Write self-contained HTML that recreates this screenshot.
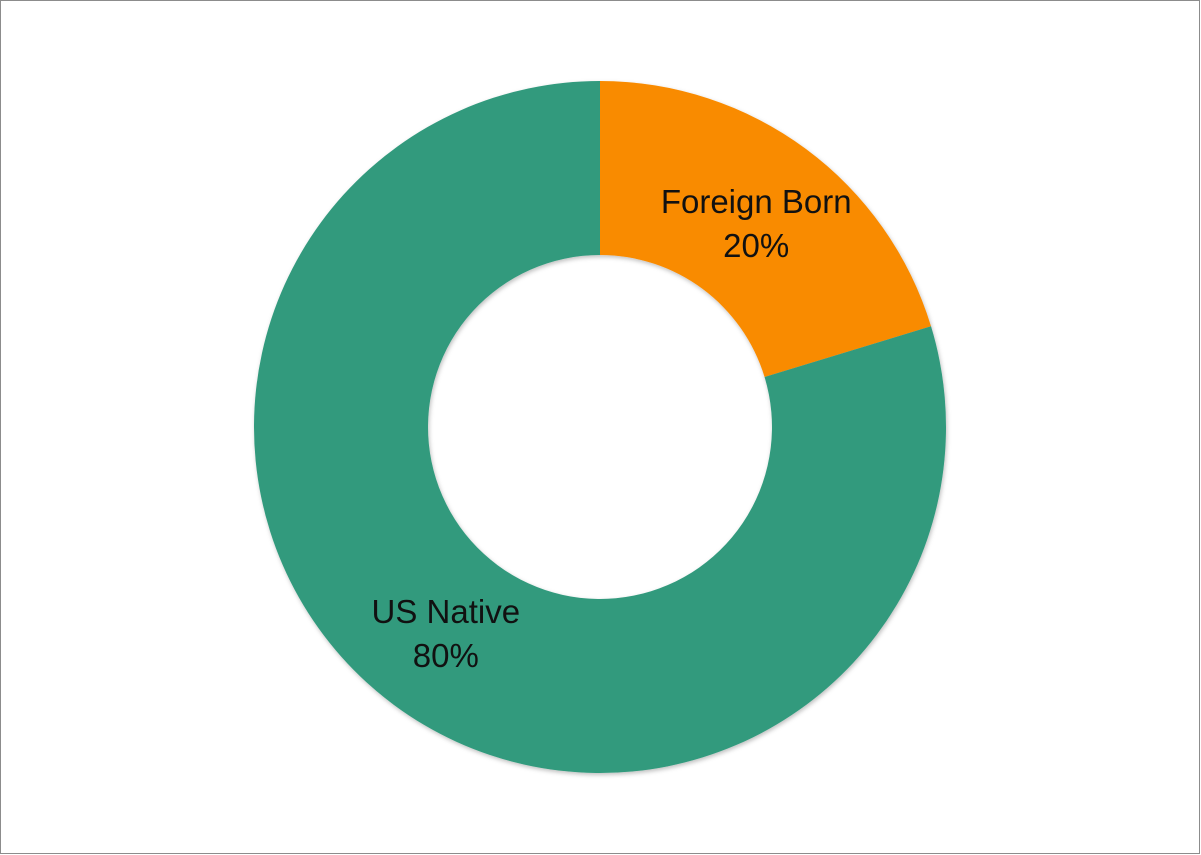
<!DOCTYPE html>
<html><head><meta charset="utf-8"><style>
html,body{margin:0;padding:0;background:#fff}
svg{display:block}
text{font-family:"Liberation Sans",sans-serif;font-size:33px;fill:#111}
</style></head><body>
<svg width="1201" height="855">
<defs><filter id="sh" x="-10%" y="-10%" width="120%" height="120%"><feDropShadow dx="1" dy="2" stdDeviation="2" flood-color="#000" flood-opacity="0.25"/></filter></defs>
<rect x="0.5" y="0.5" width="1199" height="853" fill="#fff" stroke="#8c8c8c"/>
<g id="slices" filter="url(#sh)"></g>
<g id="labels"></g>
</svg>
<script>
const categories=["Foreign Born","US Native"];
const values=[20.3,79.7];
const colors=["#F98B03","#319A7D"];
const cx=600,cy=427,R=346,r=172,ns="http://www.w3.org/2000/svg";
const total=values.reduce((a,b)=>a+b,0);
const g=document.getElementById('slices'),lg=document.getElementById('labels');
function pt(a,rad){return [cx+rad*Math.sin(a),cy-rad*Math.cos(a)];}
let a0=0;
values.forEach((v,i)=>{
 const a1=a0+v/total*2*Math.PI,big=(a1-a0)>Math.PI?1:0;
 const [x0,y0]=pt(a0,R),[x1,y1]=pt(a1,R),[x2,y2]=pt(a1,r),[x3,y3]=pt(a0,r);
 const p=document.createElementNS(ns,'path');
 p.setAttribute('d',`M${x0},${y0}A${R},${R} 0 ${big} 1 ${x1},${y1}L${x2},${y2}A${r},${r} 0 ${big} 0 ${x3},${y3}Z`);
 p.setAttribute('fill',colors[i]);
 
 
 g.appendChild(p);
 const am=(a0+a1)/2;let [lx,ly]=pt(am,(R+r)/2);
 if(i==0){lx+=2;ly+=6;}
 const t=document.createElementNS(ns,'text');
 t.setAttribute('x',lx);t.setAttribute('y',ly-12);t.setAttribute('text-anchor','middle');
 
 
 const s1=document.createElementNS(ns,'tspan');s1.setAttribute('x',lx);s1.textContent=categories[i];
 const s2=document.createElementNS(ns,'tspan');s2.setAttribute('x',lx);s2.setAttribute('dy','44');s2.textContent=Math.round(v/total*100)+'%';
 t.appendChild(s1);t.appendChild(s2);lg.appendChild(t);
 a0=a1;
});
</script>
</body></html>
